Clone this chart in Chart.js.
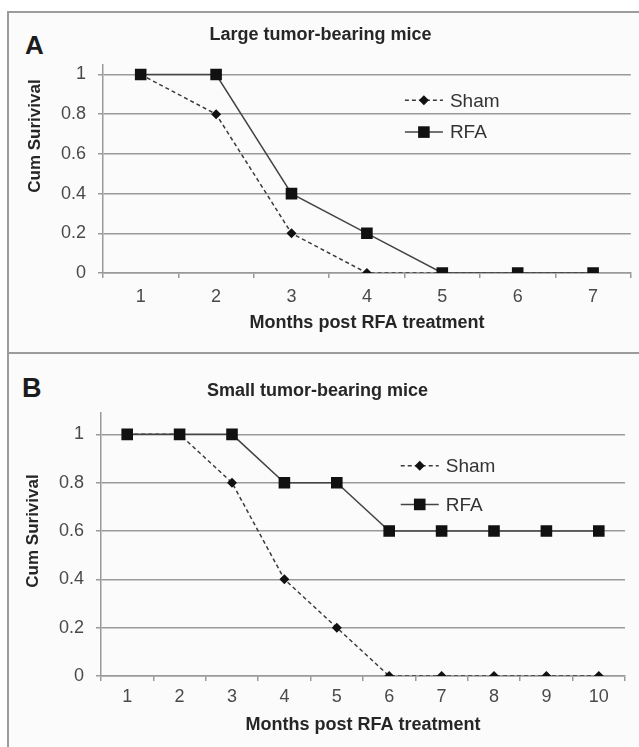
<!DOCTYPE html>
<html>
<head>
<meta charset="utf-8">
<script src="https://cdn.jsdelivr.net/npm/chart.js@4/dist/chart.umd.min.js"></script>
<style>
  body { margin: 0; background: #fff; overflow: hidden; width: 639px; height: 747px; position: relative; font-family: "Liberation Sans", Arial, sans-serif; }
  .box { position: absolute; left: 7px; width: 700px; border: 2px solid #9c9c9c; background: #fbfbfb; box-sizing: border-box; }
  .letter { position: absolute; font-weight: bold; color: #1c1c1c; line-height: 1; }
  canvas { position: absolute; }
</style>
</head>
<body>
<div class="box" style="top:11px;height:343px"></div>
<div class="box" style="top:352px;height:420px"></div>
<div class="letter" style="left:25px;top:32px;font-size:26px">A</div>
<div class="letter" style="left:22px;top:375px;font-size:27px">B</div>
<canvas id="chartA" width="629" height="339" style="left:10px;top:14px"></canvas>
<canvas id="chartB" width="629" height="392" style="left:10px;top:355px"></canvas>
<script>
// panel A: large tumor-bearing mice
const monthsA = ["1", "2", "3", "4", "5", "6", "7"];
const shamA = [1, 0.8, 0.2, 0, 0, 0, 0];
const rfaA = [1, 1, 0.4, 0.2, 0, 0, 0];

// panel B: small tumor-bearing mice
const monthsB = ["1", "2", "3", "4", "5", "6", "7", "8", "9", "10"];
const shamB = [1, 1, 0.8, 0.4, 0.2, 0, 0, 0, 0, 0];
const rfaB = [1, 1, 1, 0.8, 0.8, 0.6, 0.6, 0.6, 0.6, 0.6];

const seriesNames = ["Sham", "RFA"];

Chart.defaults.font.family = '"Liberation Sans", Arial, sans-serif';
Chart.defaults.color = "#4a4a4a";

const GRID = "#9a9a9a";

// legend drawn inside the plot, like the original figure
const insideLegend = {
	id: "insideLegend",
	afterDatasetsDraw(chart, args, opts) {
		const { ctx, chartArea, scales } = chart;
		const x0 = chartArea.left + opts.xFrac * chartArea.width;
		chart.data.datasets.forEach((ds, i) => {
			const y = scales.y.getPixelForValue(opts.yValues[i]);
			ctx.save();
			ctx.strokeStyle = ds.borderColor;
			ctx.lineWidth = ds.borderWidth;
			ctx.setLineDash(ds.borderDash || []);
			ctx.beginPath();
			ctx.moveTo(x0, y);
			ctx.lineTo(x0 + opts.lineLength, y);
			ctx.stroke();
			ctx.setLineDash([]);
			ctx.fillStyle = ds.pointBackgroundColor;
			const cx = x0 + opts.lineLength / 2;
			const r = ds.pointRadius;
			ctx.beginPath();
			if (ds.pointStyle === "rect") {
				const h = r * Math.SQRT1_2;
				ctx.rect(cx - h, y - h, 2 * h, 2 * h);
			} else {
				ctx.moveTo(cx - r, y);
				ctx.lineTo(cx, y - r);
				ctx.lineTo(cx + r, y);
				ctx.lineTo(cx, y + r);
				ctx.closePath();
			}
			ctx.fill();
			ctx.font = opts.font;
			ctx.fillStyle = "#333";
			ctx.textBaseline = "middle";
			ctx.textAlign = "left";
			ctx.fillText(ds.label, x0 + opts.lineLength + 7, y + 1);
			ctx.restore();
		});
	},
};

// rotated y axis title, placed where the original has it
const sideTitle = {
	id: "sideTitle",
	afterDraw(chart, args, opts) {
		const { ctx, scales } = chart;
		const y = scales.y.getPixelForValue(opts.value);
		ctx.save();
		ctx.translate(opts.x, y);
		ctx.rotate(-Math.PI / 2);
		ctx.font = opts.font;
		ctx.fillStyle = "#262626";
		ctx.textAlign = "center";
		ctx.textBaseline = "middle";
		ctx.fillText(opts.text, 0, 0);
		ctx.restore();
	},
};

function makeChart(id, cfg) {
	const ctx = document.getElementById(id).getContext("2d");
	return new Chart(ctx, {
		type: "line",
		data: {
			labels: cfg.labels,
			datasets: [
				{
					label: seriesNames[0],
					data: cfg.sham,
					borderColor: "#3a3a3a",
					borderWidth: 1.5,
					borderDash: [4, 3],
					pointStyle: "rectRot",
					pointRadius: 5,
					pointBackgroundColor: "#111",
					pointBorderColor: "#111",
					pointBorderWidth: 0,
					tension: 0,
					order: 1,
				},
				{
					label: seriesNames[1],
					data: cfg.rfa,
					borderColor: "#444",
					borderWidth: 1.5,
					pointStyle: "rect",
					pointRadius: 8.2,
					pointBackgroundColor: "#111",
					pointBorderColor: "#111",
					pointBorderWidth: 0,
					tension: 0,
					order: 0,
				},
			],
		},
		options: {
			responsive: false,
			animation: false,
			layout: { padding: { left: 0, right: cfg.padRight, top: 0, bottom: 0 } },
			plugins: {
				legend: { display: false },
				tooltip: { enabled: false },
				title: {
					display: true,
					text: cfg.title,
					color: "#262626",
					font: { size: 18, weight: "bold" },
					padding: { top: cfg.titleTop, bottom: cfg.titleBottom },
				},
				insideLegend: { xFrac: 0.572, yValues: [0.87, 0.71], lineLength: 38, font: "19px \"Liberation Sans\", Arial, sans-serif" },
				sideTitle: { text: "Cum Surivival", x: cfg.yTitleX, value: cfg.yTitleValue, font: "bold 17px \"Liberation Sans\", Arial, sans-serif" },
			},
			scales: {
				x: {
					offset: true,
					afterFit: (s) => { s.height = cfg.xHeight; },
					grid: { offset: true, drawOnChartArea: false, color: GRID, lineWidth: 1.5, tickLength: 5 },
					border: { color: GRID, width: 1.5 },
					ticks: { font: { size: 18 }, color: "#4a4a4a", padding: cfg.xTickPad, maxRotation: 0 },
					title: {
						display: true,
						text: "Months post RFA treatment",
						color: "#262626",
						font: { size: 18, weight: "bold" },
						padding: { top: 0, bottom: cfg.xTitleBottom },
					},
				},
				y: {
					min: 0,
					max: cfg.yMax,
					afterFit: (s) => { s.width = cfg.yWidth; },
					grid: { color: GRID, lineWidth: 1.5, tickLength: 5 },
					border: { color: GRID, width: 1.5 },
					ticks: {
						stepSize: 0.2,
						includeBounds: false,
						font: { size: 18 },
						color: "#4a4a4a",
						padding: 12,
						callback: (v) => String(Math.round(v * 10) / 10),
					},
				},
			},
		},
		plugins: [insideLegend, sideTitle],
	});
}

makeChart("chartA", {
	labels: monthsA, sham: shamA, rfa: rfaA,
	title: "Large tumor-bearing mice",
	titleTop: 10, titleBottom: 19,
	padRight: 8, yWidth: 93, yMax: 1.05,
	xHeight: 80, xTickPad: 8, xTitleBottom: 19,
	yTitleX: 25, yTitleValue: 0.69,
});

makeChart("chartB", {
	labels: monthsB, sham: shamB, rfa: rfaB,
	title: "Small tumor-bearing mice",
	titleTop: 25, titleBottom: 11,
	padRight: 14, yWidth: 91, yMax: 1.09,
	xHeight: 71, xTickPad: 5, xTitleBottom: 11,
	yTitleX: 23.5, yTitleValue: 0.6,
});
</script>
</body>
</html>
